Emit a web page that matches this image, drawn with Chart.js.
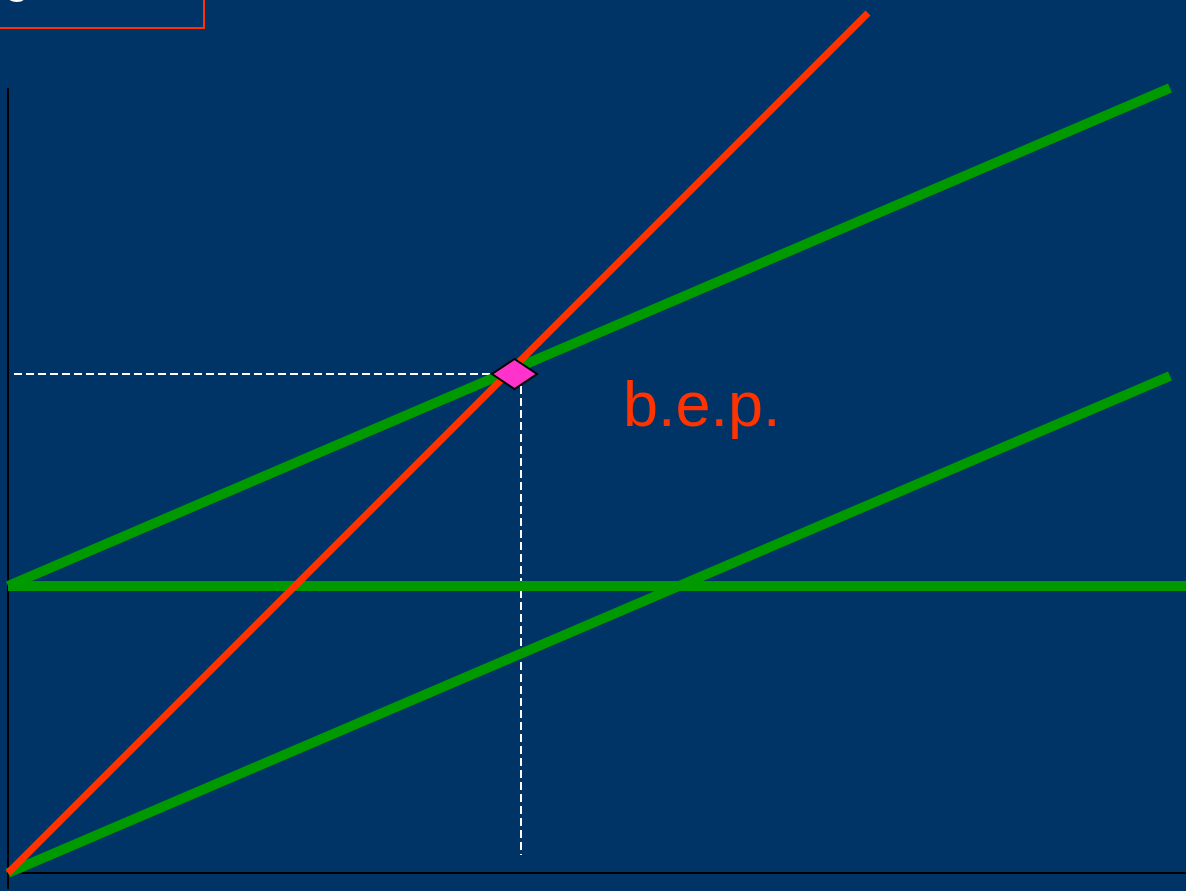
<!DOCTYPE html>
<html>
<head>
<meta charset="utf-8">
<script src="https://cdn.jsdelivr.net/npm/chart.js@4.4.0/dist/chart.umd.min.js"></script>
<style>
  html, body { margin: 0; padding: 0; background: #003366; overflow: hidden; }
  canvas { display: block; }
</style>
</head>
<body>
<canvas id="grafico" width="1186" height="891"></canvas>
<script>
// Datos (x = cantidad, y = coste / ingreso)
const ingresos = [{x: 0, y: 0}, {x: 860, y: 860}];
const costeTotal = [{x: 0, y: 287}, {x: 1162, y: 785}];
const costeFijo = [{x: 0, y: 287}, {x: 1178, y: 287}];
const costeVariable = [{x: 0, y: 0}, {x: 1162, y: 497}];
const puntoEquilibrio = [{x: 506.5, y: 499}];
const guiaHorizontal = [{x: 6, y: 499}, {x: 487, y: 499}];
const guiaVertical = [{x: 513, y: 499}, {x: 513, y: 18}];
const ejeY = [{x: 0, y: 785}, {x: 0, y: -16}];
const ejeX = [{x: 0, y: 0}, {x: 1178, y: 0}];
const etiqueta = 'b.e.p.';

// Rombo aplanado para el punto de equilibrio
function crearRombo() {
    const c = document.createElement('canvas');
    c.width = 49;
    c.height = 34;
    const g = c.getContext('2d');
    g.beginPath();
    g.moveTo(24.5, 2);
    g.lineTo(47, 17);
    g.lineTo(24.5, 32);
    g.lineTo(2, 17);
    g.closePath();
    g.fillStyle = '#ff33cc';
    g.fill();
    g.lineWidth = 2;
    g.strokeStyle = '#000000';
    g.stroke();
    return c;
}

function linea(datos, color, ancho, orden, extra) {
    return Object.assign({
        data: datos,
        borderColor: color,
        borderWidth: ancho,
        pointRadius: 0,
        showLine: true,
        fill: false,
        order: orden
    }, extra || {});
}

const textos = {
    id: 'textos',
    afterDraw(chart) {
        const ctx = chart.ctx;
        ctx.save();
        // recuadro superior
        ctx.strokeStyle = '#ff3300';
        ctx.lineWidth = 2;
        ctx.strokeRect(-2, -2, 206, 30);
        ctx.fillStyle = '#ffffff';
        ctx.font = 'bold 40px "Liberation Sans", Arial, sans-serif';
        ctx.textBaseline = 'alphabetic';
        ctx.fillText('g', 5, -6);
        // etiqueta b.e.p.
        const xs = chart.scales.x, ys = chart.scales.y;
        ctx.fillStyle = '#ff3300';
        ctx.font = '63px "Liberation Sans", Arial, sans-serif';
        ctx.fillText(etiqueta, xs.getPixelForValue(615), ys.getPixelForValue(447));
        ctx.restore();
    }
};

new Chart(document.getElementById('grafico'), {
    type: 'scatter',
    data: {
        datasets: [
            {
                data: puntoEquilibrio,
                pointStyle: crearRombo(),
                pointRadius: 20,
                showLine: false,
                clip: false,
                order: 0
            },
            linea(ingresos, '#ff3300', 7, 1),
            linea(costeTotal, '#009900', 10, 2),
            linea(costeFijo, '#009900', 10, 2),
            linea(costeVariable, '#009900', 10, 2),
            linea(guiaHorizontal, '#ffffff', 2, 3, {borderDash: [8, 4]}),
            linea(guiaVertical, '#ffffff', 2, 3, {borderDash: [8, 4]}),
            linea(ejeY, '#000000', 2, 4),
            linea(ejeX, '#000000', 2, 4)
        ]
    },
    options: {
        responsive: false,
        animation: false,
        layout: { padding: 0, autoPadding: false },
        plugins: {
            legend: { display: false },
            tooltip: { enabled: false }
        },
        scales: {
            x: { type: 'linear', min: -8, max: 1178, display: false },
            y: { type: 'linear', min: -18, max: 873, display: false }
        }
    },
    plugins: [textos]
});
</script>
</body>
</html>
